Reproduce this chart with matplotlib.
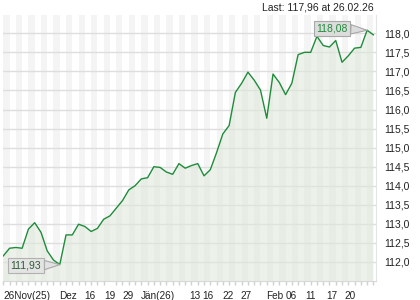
import matplotlib.pyplot as plt
import numpy as np

plt.rcParams['font.family'] = ['Liberation Sans', 'DejaVu Sans']

# Schlusskurse (täglich), 26.11.2025 - 26.02.2026
kurs = [112.16, 112.36, 112.38, 112.36, 112.86, 113.03, 112.78, 112.29, 112.05, 111.93,
        112.71, 112.71, 112.99, 112.93, 112.80, 112.88, 113.12, 113.21, 113.41, 113.61,
        113.89, 114.00, 114.18, 114.21, 114.50, 114.48, 114.36, 114.30, 114.58, 114.46,
        114.53, 114.58, 114.26, 114.42, 114.87, 115.36, 115.58, 116.45, 116.69, 116.98,
        116.77, 116.51, 115.77, 116.93, 116.71, 116.39, 116.69, 117.44, 117.50, 117.50,
        117.92, 117.68, 117.64, 117.81, 117.24, 117.41, 117.61, 117.63, 118.08, 117.96]

xlabels = ['26Nov(25)', 'Dez', '16', '19', '29', 'Jän(26)', '13', '16', '22', '27',
           'Feb', '06', '11', '17', '20']
xlabel_pos = [3.7, 10.3, 13.8, 17.0, 19.9, 24.7, 30.6, 32.6, 35.8, 38.7,
              43.3, 45.9, 48.9, 52.3, 55.3]

ytick_werte = np.arange(112.0, 118.01, 0.5)

n = np.arange(len(kurs))
kurs = np.array(kurs)

fig = plt.figure(figsize=(4.2, 3.0), dpi=100)
ax = fig.add_axes([0.0064, 0.0633, 0.8886, 0.8867])

# abwechselnde Tagesstreifen
for i in range(0, len(kurs) - 1, 2):
    ax.axvspan(i, i + 1, color='#f4f4f4', lw=0, zorder=0)

for v in ytick_werte:
    ax.axhline(v, color='#dedede', lw=1, zorder=1)

ax.fill_between(n, kurs, 100, color='#dde9d9', alpha=0.55, lw=0, zorder=2)
ax.plot(n, kurs, color='#1f8c3b', lw=1.0, zorder=3)

ax.set_xlim(-0.1, 59.4)
ax.set_ylim(111.5, 118.48)

ax.yaxis.tick_right()
ax.set_yticks(ytick_werte)
ax.set_yticklabels([f'{v:.1f}'.replace('.', ',') for v in ytick_werte])
ax.tick_params(axis='y', length=0, pad=6, labelsize=7.5, colors='#222222')

ax.set_xticks(n, minor=True)
ax.set_xticks(xlabel_pos)
ax.set_xticklabels(xlabels)
ax.tick_params(axis='x', which='major', length=0, pad=7, labelsize=7.2, colors='#222222')
ax.tick_params(axis='x', which='minor', length=3, width=1, color='#d0d0d0')

for s in ['top', 'left']:
    ax.spines[s].set_visible(False)
ax.spines['bottom'].set_color('#d8d8d8')
ax.spines['right'].set_color('#e4e4e4')

# Hoch / Tief Markierungen
i_max = int(np.argmax(kurs))
i_min = int(np.argmin(kurs))
ax.annotate(f'{kurs[i_max]:.2f}'.replace('.', ','), xy=(i_max, kurs[i_max]),
            xytext=(-35, 2), textcoords='offset pixels', ha='center', va='center',
            fontsize=7.5, color='#1f8c3b', zorder=5,
            bbox=dict(boxstyle='square,pad=0.25', fc='#dcdcdc', ec='#a8a8a8', lw=0.8),
            arrowprops=dict(arrowstyle='wedge,tail_width=0.9,shrink_factor=0.5',
                            fc='#dcdcdc', ec='#a8a8a8', lw=0.8, shrinkA=0, shrinkB=0))
ax.annotate(f'{kurs[i_min]:.2f}'.replace('.', ','), xy=(i_min, kurs[i_min]),
            xytext=(-34, -1), textcoords='offset pixels', ha='center', va='center',
            fontsize=7.5, color='#2f5a38', zorder=5,
            bbox=dict(boxstyle='square,pad=0.25', fc='#e2e2e2', ec='#a8a8a8', lw=0.8, alpha=0.85),
            arrowprops=dict(arrowstyle='wedge,tail_width=0.9,shrink_factor=0.5',
                            fc='#e2e2e2', ec='#a8a8a8', lw=0.8, shrinkA=0, shrinkB=0))

fig.text(374 / 420, 1 - 7.5 / 300, 'Last: 117,96 at 26.02.26', ha='right', va='center',
         fontsize=7.5, color='#222222')

fig.savefig('out.png', dpi=100)
